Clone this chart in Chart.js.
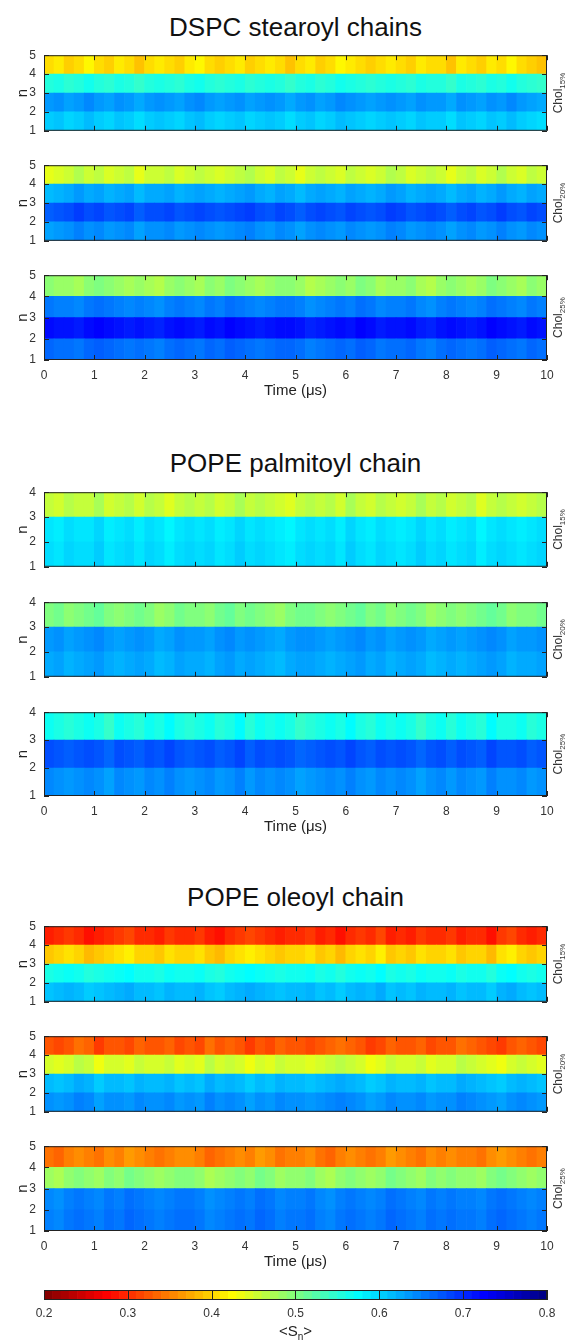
<!DOCTYPE html>
<html>
<head>
<meta charset="utf-8">
<script src="https://cdn.jsdelivr.net/npm/chart.js@4.4.0/dist/chart.umd.min.js"></script>
<style>
  body { margin: 0; background: #fff; width: 568px; height: 1340px; position: relative; overflow: hidden; font-family: "Liberation Sans", Arial, sans-serif; }
  canvas { position: absolute; left: 0; }
  .group-title { position: absolute; left: 44px; width: 503px; text-align: center; font-size: 26px; line-height: 30px; color: #111; }
</style>
</head>
<body>
<script>
// time bins (centres, µs) and axis ticks
const times = [0.1,0.3,0.5,0.7,0.9,1.1,1.3,1.5,1.7,1.9,2.1,2.3,2.5,2.7,2.9,3.1,3.3,3.5,3.7,3.9,4.1,4.3,4.5,4.7,4.9,
               5.1,5.3,5.5,5.7,5.9,6.1,6.3,6.5,6.7,6.9,7.1,7.3,7.5,7.7,7.9,8.1,8.3,8.5,8.7,8.9,9.1,9.3,9.5,9.7,9.9];
const xTicks = [0,1,2,3,4,5,6,7,8,9,10];
const cbTicks = [0.2,0.3,0.4,0.5,0.6,0.7,0.8];
const cbLevels = [.205,.215,.225,.235,.245,.255,.265,.275,.285,.295,.305,.315,.325,.335,.345,.355,.365,.375,.385,.395,
                  .405,.415,.425,.435,.445,.455,.465,.475,.485,.495,.505,.515,.525,.535,.545,.555,.565,.575,.585,.595,
                  .605,.615,.625,.635,.645,.655,.665,.675,.685,.695,.705,.715,.725,.735,.745,.755,.765,.775,.785,.795];
const chols = ['15%', '20%', '25%'];

// <S_n> per row, row 0 = n 1-2 (bottom) ... last = top row
const dspc15 = [
  [.605,.61,.60,.605,.615,.605,.60,.61,.605,.595, .605,.61,.605,.60,.61,.615,.605,.60,.605,.61, .60,.605,.61,.605,.595,.605,.61,.60,.605,.615, .61,.605,.60,.605,.61,.605,.60,.61,.605,.605, .595,.61,.605,.60,.61,.605,.615,.605,.60,.595],
  [.635,.64,.63,.635,.645,.635,.63,.64,.635,.625, .635,.64,.635,.63,.64,.645,.635,.63,.635,.64, .63,.635,.64,.635,.625,.635,.64,.63,.635,.645, .64,.635,.63,.635,.64,.635,.63,.64,.635,.635, .625,.64,.635,.63,.64,.635,.645,.635,.63,.625],
  [.555,.56,.55,.555,.565,.555,.55,.56,.555,.545, .555,.56,.555,.55,.56,.565,.555,.55,.555,.56, .55,.555,.56,.555,.545,.555,.56,.55,.555,.565, .56,.555,.55,.555,.56,.555,.55,.56,.555,.555, .545,.56,.555,.55,.56,.555,.565,.555,.55,.545],
  [.405,.413,.397,.405,.421,.405,.397,.413,.405,.389, .405,.413,.405,.397,.413,.421,.405,.397,.405,.413, .397,.405,.413,.405,.389,.405,.413,.397,.405,.421, .413,.405,.397,.405,.413,.405,.397,.413,.405,.405, .389,.413,.405,.397,.413,.405,.421,.405,.397,.389]
];
const dspc20 = [
  [.63,.635,.64,.65,.64,.645,.635,.64,.645,.63, .64,.64,.645,.635,.64,.645,.64,.635,.64,.645, .65,.64,.635,.645,.64,.63,.64,.645,.64,.635, .645,.64,.635,.64,.65,.645,.635,.64,.645,.64, .63,.64,.645,.635,.64,.65,.64,.635,.645,.64],
  [.67,.675,.68,.69,.68,.685,.675,.68,.685,.67, .68,.68,.685,.675,.68,.685,.68,.675,.68,.685, .69,.68,.675,.685,.68,.67,.68,.685,.68,.675, .685,.68,.675,.68,.69,.685,.675,.68,.685,.68, .67,.68,.685,.675,.68,.69,.68,.675,.685,.68],
  [.615,.62,.625,.635,.625,.63,.62,.625,.63,.615, .625,.625,.63,.62,.625,.63,.625,.62,.625,.63, .635,.625,.62,.63,.625,.615,.625,.63,.625,.62, .63,.625,.62,.625,.635,.63,.62,.625,.63,.625, .615,.625,.63,.62,.625,.635,.625,.62,.63,.625],
  [.439,.447,.455,.471,.455,.463,.447,.455,.463,.439, .455,.455,.463,.447,.455,.463,.455,.447,.455,.463, .471,.455,.447,.463,.455,.439,.455,.463,.455,.447, .463,.455,.447,.455,.471,.463,.447,.455,.463,.455, .439,.455,.463,.447,.455,.471,.455,.447,.463,.455]
];
const dspc25 = [
  [.665,.66,.66,.655,.665,.67,.665,.66,.655,.66, .655,.65,.66,.665,.66,.655,.665,.66,.67,.665, .66,.655,.66,.665,.665,.66,.65,.655,.66,.665, .66,.67,.665,.655,.66,.66,.665,.655,.65,.66, .665,.66,.655,.66,.67,.665,.66,.655,.665,.66],
  [.72,.715,.715,.71,.72,.725,.72,.715,.71,.715, .71,.705,.715,.72,.715,.71,.72,.715,.725,.72, .715,.71,.715,.72,.72,.715,.705,.71,.715,.72, .715,.725,.72,.71,.715,.715,.72,.71,.705,.715, .72,.715,.71,.715,.725,.72,.715,.71,.72,.715],
  [.655,.65,.65,.645,.655,.66,.655,.65,.645,.65, .645,.64,.65,.655,.65,.645,.655,.65,.66,.655, .65,.645,.65,.655,.655,.65,.64,.645,.65,.655, .65,.66,.655,.645,.65,.65,.655,.645,.64,.65, .655,.65,.645,.65,.66,.655,.65,.645,.655,.65],
  [.493,.485,.485,.477,.493,.501,.493,.485,.477,.485, .477,.469,.485,.493,.485,.477,.493,.485,.501,.493, .485,.477,.485,.493,.493,.485,.469,.477,.485,.493, .485,.501,.493,.477,.485,.485,.493,.477,.469,.485, .493,.485,.477,.485,.501,.493,.485,.477,.493,.485]
];
const pal15 = [
  [.595,.59,.60,.595,.595,.605,.59,.595,.60,.59, .60,.595,.585,.595,.60,.595,.60,.59,.595,.605, .595,.60,.595,.59,.585,.595,.60,.595,.60,.59, .605,.595,.59,.60,.595,.59,.595,.605,.595,.60, .59,.595,.60,.585,.595,.60,.595,.59,.595,.60],
  [.59,.585,.595,.59,.59,.60,.585,.59,.595,.585, .595,.59,.58,.59,.595,.59,.595,.585,.59,.60, .59,.595,.59,.585,.58,.59,.595,.59,.595,.585, .60,.59,.585,.595,.59,.585,.59,.60,.59,.595, .585,.59,.595,.58,.59,.595,.59,.585,.59,.595],
  [.46,.452,.468,.46,.46,.476,.452,.46,.468,.452, .468,.46,.444,.46,.468,.46,.468,.452,.46,.476, .46,.468,.46,.452,.444,.46,.468,.46,.468,.452, .476,.46,.452,.468,.46,.452,.46,.476,.46,.468, .452,.46,.468,.444,.46,.468,.46,.452,.46,.468]
];
const pal20 = [
  [.625,.63,.62,.625,.63,.635,.625,.62,.625,.63, .625,.615,.62,.63,.625,.625,.62,.63,.635,.625, .63,.625,.62,.615,.625,.63,.63,.625,.62,.625, .63,.635,.625,.63,.62,.625,.63,.625,.615,.62, .625,.62,.625,.63,.635,.63,.62,.625,.625,.63],
  [.635,.64,.63,.635,.64,.645,.635,.63,.635,.64, .635,.625,.63,.64,.635,.635,.63,.64,.645,.635, .64,.635,.63,.625,.635,.64,.64,.635,.63,.635, .64,.645,.635,.64,.63,.635,.64,.635,.625,.63, .635,.63,.635,.64,.645,.64,.63,.635,.635,.64],
  [.50,.508,.492,.50,.508,.516,.50,.492,.50,.508, .50,.484,.492,.508,.50,.50,.492,.508,.516,.50, .508,.50,.492,.484,.50,.508,.508,.50,.492,.50, .508,.516,.50,.508,.492,.50,.508,.50,.484,.492, .50,.492,.50,.508,.516,.508,.492,.50,.50,.508]
];
const pal25 = [
  [.645,.64,.635,.64,.645,.64,.63,.645,.64,.635, .645,.64,.65,.64,.635,.64,.645,.635,.64,.65, .635,.645,.64,.645,.64,.63,.635,.64,.645,.64, .65,.64,.635,.645,.64,.645,.64,.63,.64,.645, .635,.645,.64,.635,.65,.64,.64,.645,.635,.64],
  [.68,.675,.67,.675,.68,.675,.665,.68,.675,.67, .68,.675,.685,.675,.67,.675,.68,.67,.675,.685, .67,.68,.675,.68,.675,.665,.67,.675,.68,.675, .685,.675,.67,.68,.675,.68,.675,.665,.675,.68, .67,.68,.675,.67,.685,.675,.675,.68,.67,.675],
  [.568,.56,.552,.56,.568,.56,.544,.568,.56,.552, .568,.56,.576,.56,.552,.56,.568,.552,.56,.576, .552,.568,.56,.568,.56,.544,.552,.56,.568,.56, .576,.56,.552,.568,.56,.568,.56,.544,.56,.568, .552,.568,.56,.552,.576,.56,.56,.568,.552,.56]
];
const ole15 = [
  [.61,.615,.62,.615,.605,.61,.615,.62,.625,.615, .615,.61,.62,.615,.615,.62,.61,.605,.615,.62, .625,.62,.615,.61,.615,.615,.62,.61,.615,.605, .615,.62,.615,.625,.61,.615,.61,.62,.615,.615, .62,.61,.615,.615,.605,.62,.625,.615,.61,.615],
  [.56,.565,.57,.565,.555,.56,.565,.57,.575,.565, .565,.56,.57,.565,.565,.57,.56,.555,.565,.57, .575,.57,.565,.56,.565,.565,.57,.56,.565,.555, .565,.57,.565,.575,.56,.565,.56,.57,.565,.565, .57,.56,.565,.565,.555,.57,.575,.565,.56,.565],
  [.392,.40,.408,.40,.384,.392,.40,.408,.416,.40, .40,.392,.408,.40,.40,.408,.392,.384,.40,.408, .416,.408,.40,.392,.40,.40,.408,.392,.40,.384, .40,.408,.40,.416,.392,.40,.392,.408,.40,.40, .408,.392,.40,.40,.384,.408,.416,.40,.392,.40],
  [.292,.30,.308,.30,.284,.292,.30,.308,.316,.30, .30,.292,.308,.30,.30,.308,.292,.284,.30,.308, .316,.308,.30,.292,.30,.30,.308,.292,.30,.284, .30,.308,.30,.316,.292,.30,.292,.308,.30,.30, .308,.292,.30,.30,.284,.308,.316,.30,.292,.30]
];
const ole20 = [
  [.64,.635,.64,.65,.645,.63,.64,.64,.635,.645, .64,.64,.645,.635,.64,.635,.65,.64,.645,.64, .63,.64,.635,.645,.64,.64,.635,.64,.645,.65, .645,.64,.63,.635,.645,.64,.64,.645,.635,.64, .64,.65,.645,.64,.635,.63,.64,.645,.64,.635],
  [.615,.61,.615,.625,.62,.605,.615,.615,.61,.62, .615,.615,.62,.61,.615,.61,.625,.615,.62,.615, .605,.615,.61,.62,.615,.615,.61,.615,.62,.625, .62,.615,.605,.61,.62,.615,.615,.62,.61,.615, .615,.625,.62,.615,.61,.605,.615,.62,.615,.61],
  [.45,.442,.45,.466,.458,.434,.45,.45,.442,.458, .45,.45,.458,.442,.45,.442,.466,.45,.458,.45, .434,.45,.442,.458,.45,.45,.442,.45,.458,.466, .458,.45,.434,.442,.458,.45,.45,.458,.442,.45, .45,.466,.458,.45,.442,.434,.45,.458,.45,.442],
  [.325,.317,.325,.341,.333,.309,.325,.325,.317,.333, .325,.325,.333,.317,.325,.317,.341,.325,.333,.325, .309,.325,.317,.333,.325,.325,.317,.325,.333,.341, .333,.325,.309,.317,.333,.325,.325,.333,.317,.325, .325,.341,.333,.325,.317,.309,.325,.333,.325,.317]
];
const ole25 = [
  [.65,.645,.655,.66,.655,.65,.66,.655,.665,.66, .655,.65,.655,.66,.66,.655,.645,.65,.655,.66, .655,.665,.66,.65,.655,.655,.66,.65,.645,.655, .66,.655,.65,.655,.665,.66,.655,.65,.66,.655, .66,.655,.655,.65,.66,.665,.66,.655,.65,.655],
  [.645,.64,.65,.655,.65,.645,.655,.65,.66,.655, .65,.645,.65,.655,.655,.65,.64,.645,.65,.655, .65,.66,.655,.645,.65,.65,.655,.645,.64,.65, .655,.65,.645,.65,.66,.655,.65,.645,.655,.65, .655,.65,.65,.645,.655,.66,.655,.65,.645,.65],
  [.482,.474,.49,.498,.49,.482,.498,.49,.506,.498, .49,.482,.49,.498,.498,.49,.474,.482,.49,.498, .49,.506,.498,.482,.49,.49,.498,.482,.474,.49, .498,.49,.482,.49,.506,.498,.49,.482,.498,.49, .498,.49,.49,.482,.498,.506,.498,.49,.482,.49],
  [.342,.334,.35,.358,.35,.342,.358,.35,.366,.358, .35,.342,.35,.358,.358,.35,.334,.342,.35,.358, .35,.366,.358,.342,.35,.35,.358,.342,.334,.35, .358,.35,.342,.35,.366,.358,.35,.342,.358,.35, .358,.35,.35,.342,.358,.366,.358,.35,.342,.35]
];

// page layout
const PLOT_LEFT = 44, PLOT_RIGHT = 547, W = 568;
const groups = [
  { title: 'DSPC stearoyl chains', titleY: 27,  tops: [55, 165, 275],   h: 88, panels: [dspc15, dspc20, dspc25] },
  { title: 'POPE palmitoyl chain', titleY: 463, tops: [492, 602, 712],  h: 87, panels: [pal15, pal20, pal25] },
  { title: 'POPE oleoyl chain',    titleY: 897, tops: [926, 1036, 1146], h: 88, panels: [ole15, ole20, ole25] }
];
const CB_TOP = 1290;

Chart.defaults.font.family = '"Liberation Sans", Arial, sans-serif';
Chart.defaults.color = '#333';

// reversed jet colormap on 0.2 .. 0.8
function jetColor(v) {
  const t = (0.8 - v) / 0.6;
  const c = x => Math.round(255 * Math.min(1, Math.max(0, x)));
  return `rgb(${c(1.5 - Math.abs(4 * t - 3))},${c(1.5 - Math.abs(4 * t - 2))},${c(1.5 - Math.abs(4 * t - 1))})`;
}

// frame, inward ticks and the Chol label on the right
const decor = {
  id: 'decor',
  afterDatasetsDraw(chart, args, opts) {
    const { ctx, chartArea: a, scales: { x, y } } = chart;
    ctx.save();
    ctx.strokeStyle = '#222';
    ctx.lineWidth = 1;
    ctx.beginPath();
    xTicks.forEach(v => {
      const px = Math.round(x.getPixelForValue(v)) + 0.5;
      ctx.moveTo(px, a.top); ctx.lineTo(px, a.top + 5);
      ctx.moveTo(px, a.bottom); ctx.lineTo(px, a.bottom - 5);
    });
    y.ticks.forEach(t => {
      const py = Math.round(y.getPixelForValue(t.value)) + 0.5;
      ctx.moveTo(a.left, py); ctx.lineTo(a.left + 5, py);
      ctx.moveTo(a.right, py); ctx.lineTo(a.right - 5, py);
    });
    ctx.stroke();
    ctx.strokeRect(a.left + 0.5, a.top + 0.5, a.width - 1, a.height - 1);

    ctx.translate(a.right + 11, (a.top + a.bottom) / 2);
    ctx.rotate(-Math.PI / 2);
    ctx.fillStyle = '#333';
    ctx.textBaseline = 'alphabetic';
    ctx.font = '12px "Liberation Sans", Arial, sans-serif';
    const w1 = ctx.measureText('Chol').width;
    ctx.font = '8px "Liberation Sans", Arial, sans-serif';
    const w2 = ctx.measureText(opts.cond).width;
    const x0 = -(w1 + w2) / 2;
    ctx.font = '12px "Liberation Sans", Arial, sans-serif';
    ctx.fillText('Chol', x0, 4);
    ctx.font = '8px "Liberation Sans", Arial, sans-serif';
    ctx.fillText(opts.cond, x0 + w1, 7);
    ctx.restore();
  }
};

function makePanel(rows, cond, top, h, showX) {
  const padTop = 12, padBottom = 6, xH = showX ? 42 : 0;
  const canvas = document.createElement('canvas');
  canvas.width = W;
  canvas.height = padTop + h + xH + padBottom;
  document.body.appendChild(canvas);

  const datasets = rows.map((vals, i) => ({
    data: times.map(t => ({ x: t, y: [i + 1, i + 2] })),
    backgroundColor: vals.map(jetColor),
    borderWidth: 0,
    grouped: false,
    barPercentage: 1,
    categoryPercentage: 1
  }));

  const chart = new Chart(canvas, {
    type: 'bar',
    data: { datasets },
    options: {
      responsive: false,
      animation: false,
      devicePixelRatio: 1,
      layout: { padding: { top: padTop, bottom: padBottom, left: 0, right: W - PLOT_RIGHT } },
      scales: {
        x: {
          type: 'linear', min: 0, max: 10, offset: false, display: showX,
          grid: { display: false, drawTicks: false }, border: { display: false },
          ticks: { stepSize: 1, padding: 8, font: { size: 12 } },
          title: { display: true, text: 'Time (μs)', color: '#222', font: { size: 15 }, padding: { top: 0, bottom: 2 } },
          afterFit: s => { s.height = xH; }
        },
        y: {
          type: 'linear', min: 1, max: rows.length + 1,
          grid: { display: false, drawTicks: false }, border: { display: false },
          ticks: { stepSize: 1, padding: 8, font: { size: 12 } },
          title: { display: true, text: 'n', color: '#222', font: { size: 15 }, padding: { top: 14, bottom: 0 } },
          afterFit: s => { s.width = PLOT_LEFT; }
        }
      },
      plugins: { legend: { display: false }, tooltip: { enabled: false }, decor: { cond } }
    },
    plugins: [decor]
  });
  canvas.style.top = (top - chart.chartArea.top) + 'px';
}

groups.forEach(g => {
  const div = document.createElement('div');
  div.className = 'group-title';
  div.style.top = (g.titleY - 15) + 'px';
  div.textContent = g.title;
  document.body.appendChild(div);
  g.panels.forEach((rows, k) => makePanel(rows, chols[k], g.tops[k], g.h, k === 2));
});

// colour bar
const cbDecor = {
  id: 'cbDecor',
  afterDatasetsDraw(chart) {
    const { ctx, chartArea: a, scales: { x } } = chart;
    ctx.save();
    ctx.strokeStyle = '#222';
    ctx.lineWidth = 1;
    ctx.beginPath();
    cbTicks.forEach(v => {
      const px = Math.round(x.getPixelForValue(v)) + 0.5;
      ctx.moveTo(px, a.top); ctx.lineTo(px, a.bottom);
    });
    ctx.stroke();
    ctx.strokeRect(a.left + 0.5, a.top + 0.5, a.width - 1, a.height - 1);

    ctx.fillStyle = '#222';
    ctx.textBaseline = 'middle';
    ctx.font = '15px "Liberation Sans", Arial, sans-serif';
    const wa = ctx.measureText('<S').width, wc = ctx.measureText('>').width;
    ctx.font = '10px "Liberation Sans", Arial, sans-serif';
    const wb = ctx.measureText('n').width;
    const cx = (a.left + a.right) / 2, cy = a.bottom + 32;
    let xx = cx - (wa + wb + wc) / 2;
    ctx.font = '15px "Liberation Sans", Arial, sans-serif';
    ctx.fillText('<S', xx, cy); xx += wa;
    ctx.font = '10px "Liberation Sans", Arial, sans-serif';
    ctx.fillText('n', xx, cy + 5); xx += wb;
    ctx.font = '15px "Liberation Sans", Arial, sans-serif';
    ctx.fillText('>', xx, cy);
    ctx.restore();
  }
};

const cbCanvas = document.createElement('canvas');
cbCanvas.width = W;
cbCanvas.height = 60;
document.body.appendChild(cbCanvas);
const cbChart = new Chart(cbCanvas, {
  type: 'bar',
  data: {
    datasets: [{
      data: cbLevels.map(v => ({ x: v, y: [0, 1] })),
      backgroundColor: cbLevels.map(jetColor),
      borderWidth: 0,
      barPercentage: 1,
      categoryPercentage: 1
    }]
  },
  options: {
    responsive: false,
    animation: false,
    devicePixelRatio: 1,
    layout: { padding: { top: 4, left: PLOT_LEFT, right: W - PLOT_RIGHT, bottom: 0 } },
    scales: {
      x: {
        type: 'linear', min: 0.2, max: 0.8, offset: false,
        grid: { display: false, drawTicks: false }, border: { display: false },
        ticks: { stepSize: 0.1, padding: 6, font: { size: 12 }, callback: v => v.toFixed(1) },
        afterFit: s => { s.height = 46; }
      },
      y: { display: false, min: 0, max: 1 }
    },
    plugins: { legend: { display: false }, tooltip: { enabled: false } }
  },
  plugins: [cbDecor]
});
cbCanvas.style.top = (CB_TOP - cbChart.chartArea.top) + 'px';
</script>
</body>
</html>
